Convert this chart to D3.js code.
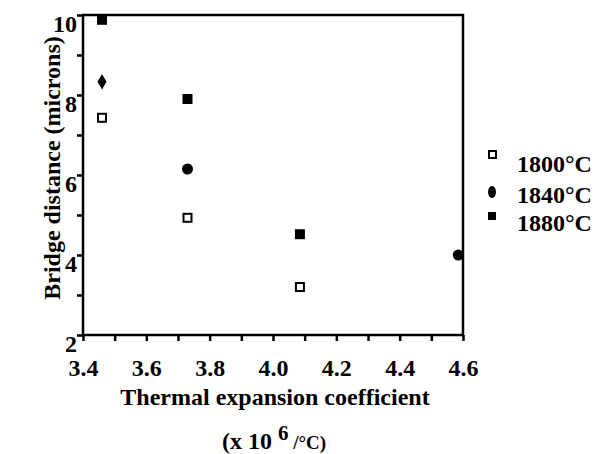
<!DOCTYPE html>
<html>
<head>
<meta charset="utf-8">
<script src="https://cdn.jsdelivr.net/npm/d3@7"></script>
<style>
  body { margin: 0; background: #fff; }
</style>
</head>
<body>
<div id="chart"></div>
<script>
// values
var x1800 = [3.46, 3.73, 4.085];
var y1800 = [7.43, 4.93, 3.2];
var x1840 = [3.46, 3.73, 4.585];
var y1840 = [8.33, 6.15, 4.0];
var shape1840 = ["diamond", "circle", "circle"];
var x1880 = [3.46, 3.73, 4.085];
var y1880 = [9.88, 7.9, 4.52];
var seriesNames = ["1800°C", "1840°C", "1880°C"];
var xTicks = d3.range(34, 47).map(function(d) { return d / 10; });
var yTicks = [2, 3, 4, 5, 6, 7, 8, 9, 10];

var serif = "'Liberation Serif', 'Times New Roman', serif";

var width = 596, height = 454;
var margin = {top: 15, right: 133, bottom: 119, left: 83};

var x = d3.scaleLinear().domain([3.4, 4.6]).range([margin.left, width - margin.right]);
var y = d3.scaleLinear().domain([2, 10]).range([height - margin.bottom, margin.top]);

var svg = d3.select("#chart").append("svg")
    .attr("width", width)
    .attr("height", height)
    .attr("font-family", serif)
    .attr("font-weight", "bold");

// x axis
var xAxis = d3.axisBottom(x)
    .tickValues(xTicks)
    .tickSize(6)
    .tickFormat(function(d) { return Math.round(d * 10) % 2 === 0 ? d3.format(".1f")(d) : ""; });

var gx = svg.append("g")
    .attr("transform", "translate(0," + y(2) + ")")
    .call(xAxis)
    .attr("font-family", serif)
    .attr("font-size", 24);
gx.select(".domain").remove();
gx.selectAll("line").attr("stroke-width", 2.5);
gx.selectAll("text")
    .attr("y", 41)
    .attr("dy", 0)
    .attr("fill", "#000");

// y axis
var yAxis = d3.axisLeft(y)
    .tickValues(yTicks)
    .tickSize(6)
    .tickFormat(function(d) { return d % 2 === 0 ? d : ""; });

var gy = svg.append("g")
    .attr("transform", "translate(" + x(3.4) + ",0)")
    .call(yAxis)
    .attr("font-family", serif)
    .attr("font-size", 24);
gy.select(".domain").remove();
gy.selectAll("line").attr("stroke-width", 2.5);
gy.selectAll("text")
    .attr("x", -6)
    .attr("dy", 16)
    .attr("fill", "#000");

// frame
svg.append("rect")
    .attr("x", x(3.4))
    .attr("y", y(10))
    .attr("width", x(4.6) - x(3.4))
    .attr("height", y(2) - y(10))
    .attr("fill", "none")
    .attr("stroke", "#000")
    .attr("stroke-width", 2.5);

// axis titles
svg.append("text")
    .attr("x", 275)
    .attr("y", 405)
    .attr("text-anchor", "middle")
    .attr("font-size", 24)
    .text("Thermal expansion coefficient");

var unit = svg.append("text")
    .attr("x", 274)
    .attr("y", 449)
    .attr("text-anchor", "middle")
    .attr("font-size", 24);
unit.append("tspan").text("(x 10 ");
unit.append("tspan").attr("dy", -9).attr("font-size", 21).text("6");
unit.append("tspan").attr("dy", 9).attr("font-size", 19).text(" /°C)");

svg.append("text")
    .attr("transform", "translate(60,168) rotate(-90)")
    .attr("text-anchor", "middle")
    .attr("font-size", 24)
    .attr("fill", "#000")
    .text("Bridge distance  (microns)");

// points
var g = svg.append("g");

g.selectAll(".p1800")
    .data(x1800)
  .enter().append("rect")
    .attr("x", function(d) { return x(d) - 4; })
    .attr("y", function(d, i) { return y(y1800[i]) - 4; })
    .attr("width", 8)
    .attr("height", 8)
    .attr("fill", "#fff")
    .attr("stroke", "#000")
    .attr("stroke-width", 2);

g.selectAll(".p1840")
    .data(x1840)
  .enter().append("path")
    .attr("transform", function(d, i) { return "translate(" + x(d) + "," + y(y1840[i]) + ")"; })
    .attr("d", function(d, i) {
      return d3.symbol()
        .type(shape1840[i] === "diamond" ? d3.symbolDiamond : d3.symbolCircle)
        .size(shape1840[i] === "diamond" ? 70 : 95)();
    })
    .attr("fill", "#000");

g.selectAll(".p1880")
    .data(x1880)
  .enter().append("rect")
    .attr("x", function(d) { return x(d) - 5; })
    .attr("y", function(d, i) { return y(y1880[i]) - 5; })
    .attr("width", 10)
    .attr("height", 10)
    .attr("fill", "#000");

// legend
var legY = [165, 196, 224];
var leg = svg.append("g");

leg.append("rect")
    .attr("x", 489).attr("y", legY[0] - 14)
    .attr("width", 7).attr("height", 7)
    .attr("fill", "#fff").attr("stroke", "#000").attr("stroke-width", 2);
leg.append("ellipse")
    .attr("cx", 492).attr("cy", legY[1] - 4)
    .attr("rx", 4).attr("ry", 6)
    .attr("fill", "#000");
leg.append("rect")
    .attr("x", 488).attr("y", legY[2] - 12)
    .attr("width", 8).attr("height", 8)
    .attr("fill", "#000");

leg.selectAll(".lt")
    .data(seriesNames)
  .enter().append("text")
    .attr("x", 517)
    .attr("y", function(d, i) { return legY[i] + 7; })
    .attr("font-size", 24)
    .text(function(d) { return d; });
</script>
</body>
</html>
